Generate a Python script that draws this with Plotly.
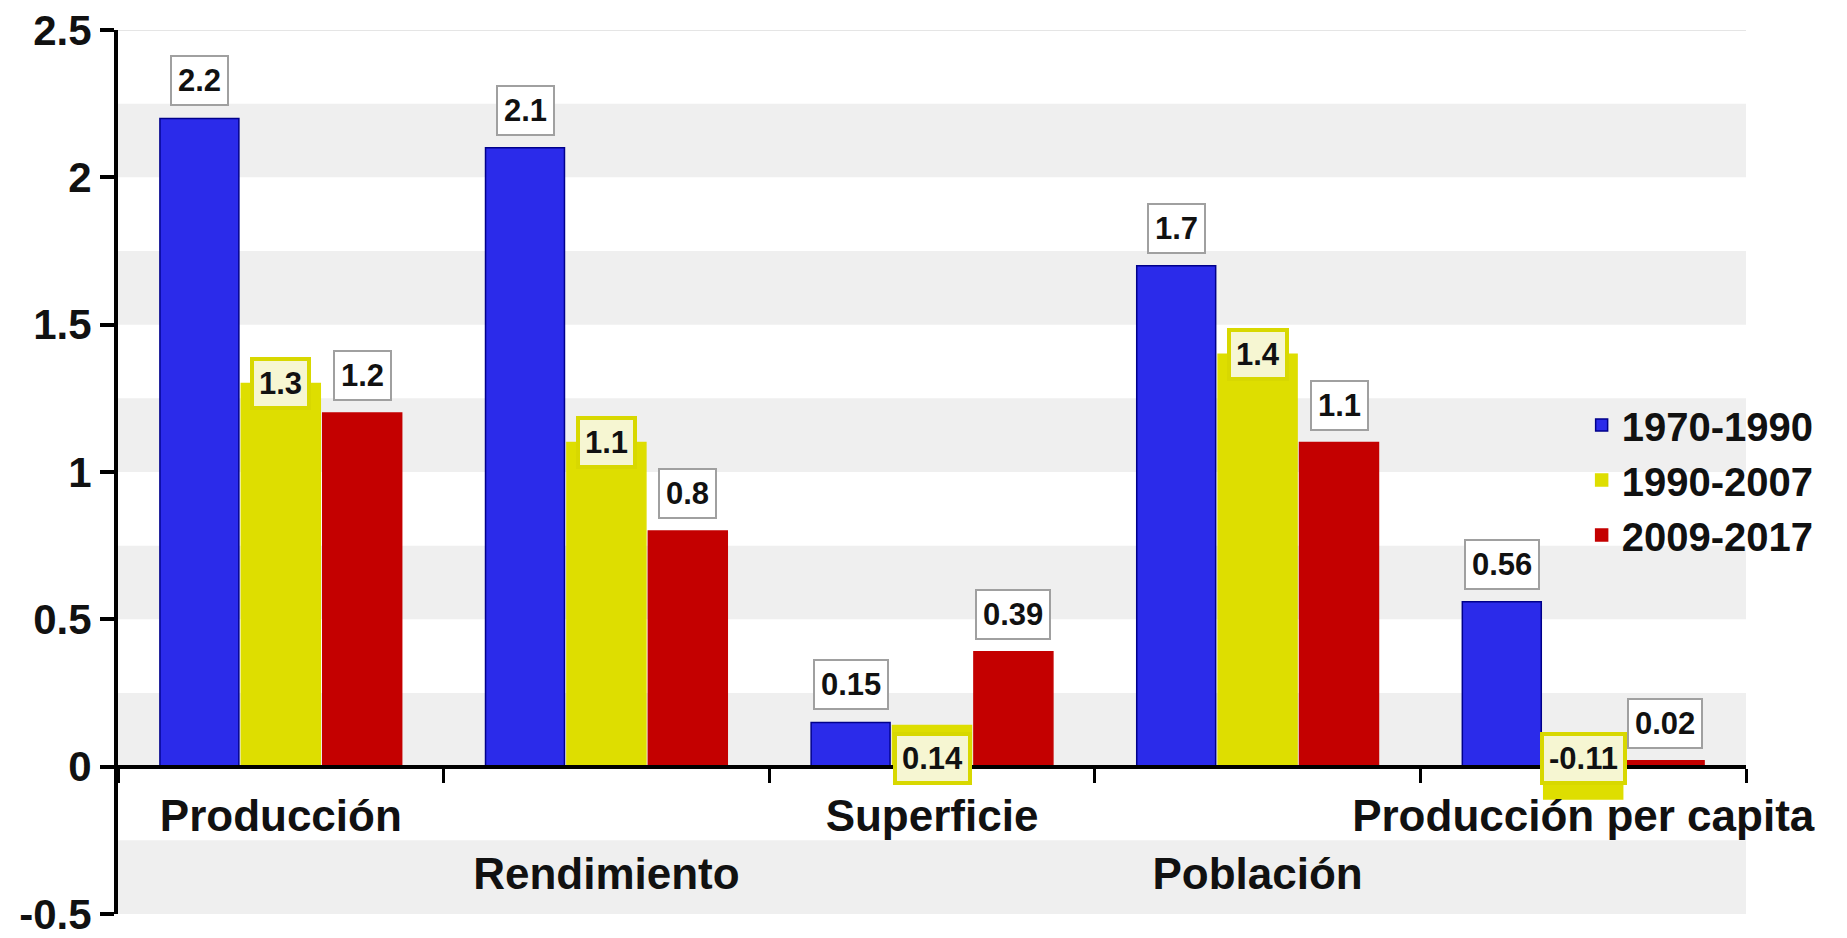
import plotly.graph_objects as go

categories = ["Producción", "Rendimiento", "Superficie", "Población", "Producción per capita"]
series_names = ["1970-1990", "1990-2007", "2009-2017"]
values_1970_1990 = [2.2, 2.1, 0.15, 1.7, 0.56]
values_1990_2007 = [1.3, 1.1, 0.14, 1.4, -0.11]
values_2009_2017 = [1.2, 0.8, 0.39, 1.1, 0.02]
y_tickvals = [-0.5, 0, 0.5, 1, 1.5, 2, 2.5]
y_ticktext = ["-0.5", "0", "0.5", "1", "1.5", "2", "2.5"]

all_values = [values_1970_1990, values_1990_2007, values_2009_2017]
colors = ["#2b2bea", "#dede00", "#c40000"]
line_colors = ["#00008b", "#dede00", "#c40000"]

FONT = "Liberation Sans, Arial, sans-serif"

fig = go.Figure()
for name, vals, c, lc in zip(series_names, all_values, colors, line_colors):
    fig.add_trace(go.Bar(
        x=categories, y=vals, name=name,
        marker=dict(color=c, line=dict(color=lc, width=1.5)),
        legendgroup=name,
    ))

# alternating background bands
shapes = []
for k in range(6):
    lo = -0.5 + k * 0.5
    shapes.append(dict(type="rect", xref="paper", yref="y", x0=0, x1=1,
                       y0=lo, y1=lo + 0.25, fillcolor="#efefef",
                       line=dict(width=0), layer="below"))
shapes.append(dict(type="line", xref="paper", yref="y", x0=0, x1=1, y0=2.5, y1=2.5,
                   line=dict(color="#dcdcdc", width=1.5), layer="below"))

# value labels
annotations = []
offsets = [-0.25, 0.0, 0.25]
for j, vals in enumerate(all_values):
    for i, v in enumerate(vals):
        txt = f"{v:g}"
        if j == 1:
            if abs(v) < 0.3:
                yy, ysh = 0, 8
            else:
                yy, ysh = v, 0
            annotations.append(dict(
                x=i + offsets[j], y=yy, xref="x", yref="y", text=f"<b>{txt}</b>",
                showarrow=False, yanchor="middle", yshift=ysh,
                font=dict(family=FONT, size=31, color="#111111"),
                bgcolor="#f6f6d2", bordercolor="#d8d800", borderwidth=4, borderpad=5))
        else:
            annotations.append(dict(
                x=i + offsets[j], y=max(v, 0), xref="x", yref="y", text=f"<b>{txt}</b>",
                showarrow=False, yanchor="bottom", yshift=12,
                font=dict(family=FONT, size=31, color="#111111"),
                bgcolor="#ffffff", bordercolor="#a0a0a0", borderwidth=2, borderpad=6))

fig.update_layout(
    width=1847, height=938,
    margin=dict(l=110, r=109, t=22, b=32, autoexpand=False),
    paper_bgcolor="white", plot_bgcolor="white",
    barmode="group", bargap=0.25, bargroupgap=0.03,
    font=dict(family=FONT, color="#111111"),
    shapes=shapes, annotations=annotations,
    legend=dict(xref="container", yref="container", x=0.852, y=0.59,
                xanchor="left", yanchor="top",
                bgcolor="rgba(0,0,0,0)", tracegroupgap=0,
                font=dict(family=FONT, size=40, color="#111111", weight="bold")),
    xaxis=dict(
        type="category", range=[-0.5, 4.5], anchor="free", position=1/6,
        showline=True, linecolor="black", linewidth=4,
        ticks="outside", ticklen=14, tickwidth=3, tickcolor="black",
        tickson="boundaries", showgrid=False, tickangle=0, automargin=False,
        ticklabelstandoff=10,
        tickvals=categories,
        ticktext=[c if i % 2 == 0 else "<br>" + c for i, c in enumerate(categories)],
        tickfont=dict(family=FONT, size=44, color="#111111", weight="bold"),
    ),
    yaxis=dict(
        range=[-0.5, 2.5], tickvals=y_tickvals, ticktext=y_ticktext,
        showline=True, linecolor="black", linewidth=4, automargin=False,
        ticks="outside", ticklen=14, tickwidth=4, tickcolor="black",
        showgrid=False, zeroline=False, ticklabeloverflow="allow",
        tickfont=dict(family=FONT, size=42, color="#111111", weight="bold"),
    ),
)

fig.write_html("out.html")
